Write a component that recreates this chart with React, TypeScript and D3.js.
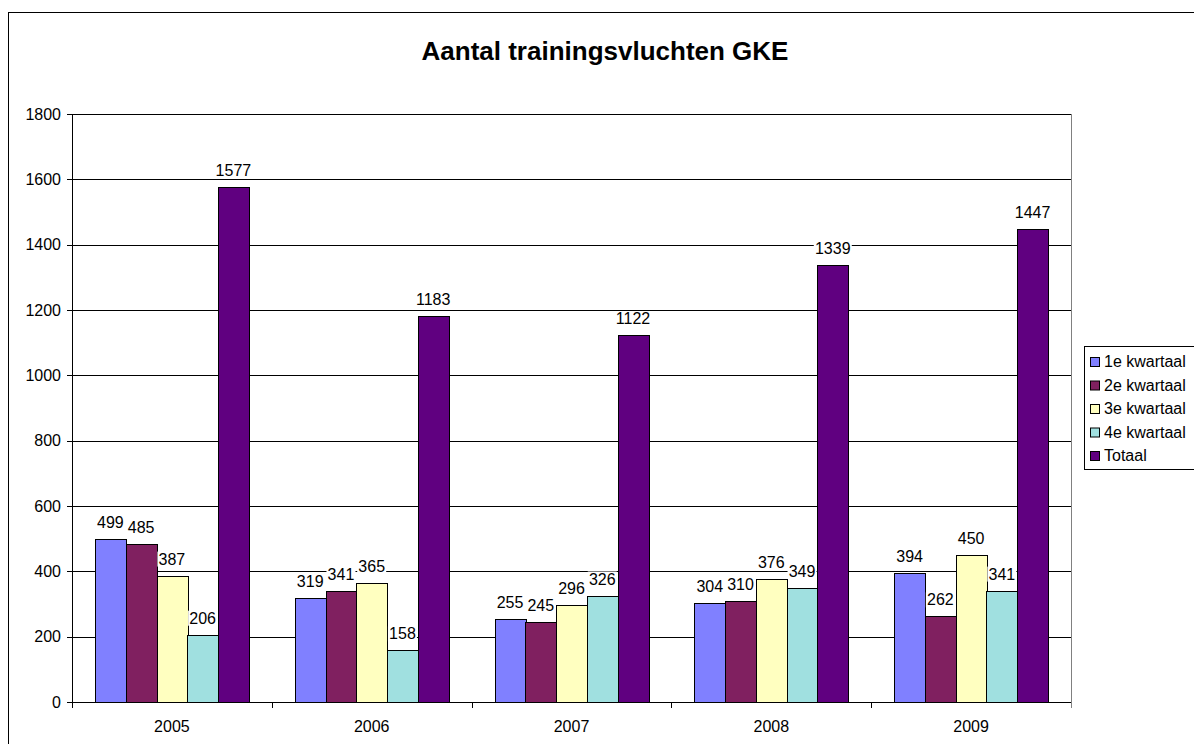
import React from "react";
import * as d3 from "d3";

const years = ["2005", "2006", "2007", "2008", "2009"];
const seriesNames = ["1e kwartaal", "2e kwartaal", "3e kwartaal", "4e kwartaal", "Totaal"];
const q1 = [499, 319, 255, 304, 394];
const q2 = [485, 341, 245, 310, 262];
const q3 = [387, 365, 296, 376, 450];
const q4 = [206, 158, 326, 349, 341];
const totaal = [1577, 1183, 1122, 1339, 1447];
const yTicks = [0, 200, 400, 600, 800, 1000, 1200, 1400, 1600, 1800];
const colors = ["#8080FF", "#802060", "#FFFFC0", "#A0E0E0", "#600080"];

const W = 1194;
const H = 744;
const left = 72;
const right = 1071;
const top = 114;
const bottom = 702;
const FONT = "'Liberation Sans', Arial, sans-serif";

export default function App() {
  const series = [q1, q2, q3, q4, totaal];
  const x = d3.scaleBand<string>().domain(years).range([left, right]).paddingInner(0).paddingOuter(0);
  const inner = d3
    .scaleBand<string>()
    .domain(seriesNames)
    .range([0, x.bandwidth()])
    .paddingOuter(0.75)
    .paddingInner(0);
  const y = d3.scaleLinear().domain([0, 1800]).range([bottom, top]);

  return (
    <svg
      width={W}
      height={H}
      style={{ position: "absolute", left: 0, top: 0, fontFamily: FONT }}
    >
      <rect x={0} y={0} width={W} height={H} fill="#fff" />
      <rect x={8.5} y={12.5} width={W + 20} height={H + 20} fill="none" stroke="#000" strokeWidth={1} />
      <text x={605} y={60} textAnchor="middle" fontSize={26} fontWeight="bold" fill="#000">
        Aantal trainingsvluchten GKE
      </text>
      {/* gridlines */}
      {yTicks.map((t) => (
        <line key={"g" + t} x1={left} x2={right} y1={Math.round(y(t)) + 0.5} y2={Math.round(y(t)) + 0.5} stroke="#000" strokeWidth={1} />
      ))}
      {/* plot right border */}
      <line x1={right + 0.5} x2={right + 0.5} y1={top} y2={bottom} stroke="#808080" strokeWidth={1} />
      {/* y axis */}
      <line x1={left + 0.5} x2={left + 0.5} y1={top} y2={bottom + 0.5} stroke="#000" strokeWidth={1} />
      {yTicks.map((t) => (
        <g key={"t" + t}>
          <line x1={left - 5} x2={left} y1={Math.round(y(t)) + 0.5} y2={Math.round(y(t)) + 0.5} stroke="#000" />
          <text x={61} y={y(t) + 5.7} textAnchor="end" fontSize={16} fill="#000">
            {t}
          </text>
        </g>
      ))}
      {/* x axis ticks */}
      {years.map((yr) => (
        <line
          key={"xt" + yr}
          x1={Math.round(x(yr)!) + 0.5}
          x2={Math.round(x(yr)!) + 0.5}
          y1={bottom}
          y2={bottom + 6}
          stroke="#000"
        />
      ))}
      <line x1={right + 0.5} x2={right + 0.5} y1={bottom} y2={bottom + 6} stroke="#808080" />
      {years.map((yr) => (
        <text key={"xl" + yr} x={x(yr)! + x.bandwidth() / 2} y={732} textAnchor="middle" fontSize={16} fill="#000">
          {yr}
        </text>
      ))}
      {/* bars */}
      {series.map((vals, si) =>
        vals.map((v, ci) => {
          const bx = x(years[ci])! + inner(seriesNames[si])!;
          const bw = inner.bandwidth();
          return (
            <rect
              key={`b${si}-${ci}`}
              x={Math.round(bx) + 0.5}
              y={Math.round(y(v)) + 0.5}
              width={Math.round(bw)}
              height={Math.round(y(0)) - Math.round(y(v))}
              fill={colors[si]}
              stroke="#000"
              strokeWidth={1}
            />
          );
        })
      )}
      {/* labels with white background */}
      {series.map((vals, si) =>
        vals.map((v, ci) => {
          const cx = x(years[ci])! + inner(seriesNames[si])! + inner.bandwidth() / 2;
          const ly = y(v) - 11;
          const tw = String(v).length * 9 + 2;
          return (
            <g key={`l${si}-${ci}`}>
              <rect x={cx - tw / 2} y={ly - 13} width={tw} height={15} fill="#fff" />
              <text x={cx} y={ly} textAnchor="middle" fontSize={16} fill="#000">
                {v}
              </text>
            </g>
          );
        })
      )}
      {/* legend */}
      <rect x={1084.5} y={346.5} width={130} height={123} fill="#fff" stroke="#000" strokeWidth={1} />
      {seriesNames.map((n, i) => (
        <g key={"lg" + n}>
          <rect x={1090.5} y={357.5 + i * 23.5} width={9} height={9} fill={colors[i]} stroke="#000" strokeWidth={1} />
          <text x={1104} y={367 + i * 23.5} fontSize={16} fill="#000">
            {n}
          </text>
        </g>
      ))}
    </svg>
  );
}
